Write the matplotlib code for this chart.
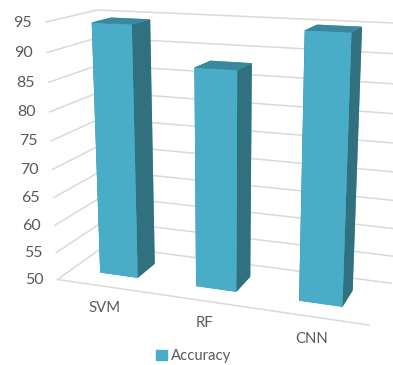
import numpy as np
import matplotlib
matplotlib.use("Agg")
import matplotlib.pyplot as plt
from matplotlib.patches import Patch
from mpl_toolkits.mplot3d import proj3d

plt.rcParams["font.family"] = "Lato"

categories = ["SVM", "RF", "CNN"]
accuracy = [94.5, 88.0, 94.9]
y_ticks = [50, 55, 60, 65, 70, 75, 80, 85, 90, 95]

BAR_WIDTH = 0.4
BAR_DEPTH = 0.4
GRID = "#D9D9D9"
TEXT = "#595959"
FRONT = "#4AADC8"
SIDE = "#31707F"
TOP = "#3A889E"

W, H = 393, 365
PX = 0.72  # points per pixel at dpi 100

fig = plt.figure(figsize=(W / 100, H / 100), dpi=100)
# square axes kept inside the figure, walls run out past it with clipping off
ax = fig.add_axes([59.18 / W, 44.2 / H, 320 / W, 320 / H], projection="3d")
ax.computed_zorder = False
ax.view_init(elev=14.868, azim=-69.863)
ax.set_proj_type("persp", focal_length=0.578)
ax.set_box_aspect((1, 0.333, 0.816), zoom=1.3243)

n = len(categories)
ax.set_xlim(0, n)
ax.set_ylim(0, 1)
ax.set_zlim(y_ticks[0], y_ticks[-1])
ax.set_axis_off()


def label_at(x, y, z, text, dx, dy, ha, size):
    # put a flat label next to a point of the 3d box, offset given in pixels
    px, py, _ = proj3d.proj_transform(x, y, z, ax.get_proj())
    ax.annotate(text, xy=(px, py), xycoords="data", xytext=(dx * PX, dy * PX),
                textcoords="offset points", ha=ha, va="center", color=TEXT,
                fontsize=size, annotation_clip=False)


# Walls and floor
for v in y_ticks:
    ax.plot([0, 0, n], [0, 1, 1], [v, v, v], color=GRID, lw=1.1, zorder=1, clip_on=False)
    label_at(0, 0, v, str(v), -14, -0.5, "right", 11.5)
ax.plot([0, n], [0, 0], [y_ticks[0]] * 2, color=GRID, lw=1.1, zorder=1, clip_on=False)

# Bars
xpos = np.arange(n) + 0.5 - BAR_WIDTH / 2
ypos = np.full(n, 0.5 - BAR_DEPTH / 2)
zpos = np.full(n, y_ticks[0], dtype=float)
heights = np.array(accuracy) - y_ticks[0]
faces = [TOP, TOP, FRONT, FRONT, SIDE, SIDE]
for i in range(n):
    bar = ax.bar3d(xpos[i], ypos[i], zpos[i], BAR_WIDTH, BAR_DEPTH, heights[i],
                   color=faces, shade=False, zorder=2 + i, linewidth=0)
    bar.set_clip_on(False)
    label_at(i + 0.5, 0, y_ticks[0], categories[i], 0, -22, "center", 10.7)

fig.legend(handles=[Patch(color=FRONT, label="Accuracy")], loc="center",
           bbox_to_anchor=(194 / W, 1 - 356 / H), frameon=False, fontsize=10.7,
           labelcolor=TEXT, handlelength=0.7, handleheight=0.7, handletextpad=0.3)

fig.savefig("out.png", dpi=100)
